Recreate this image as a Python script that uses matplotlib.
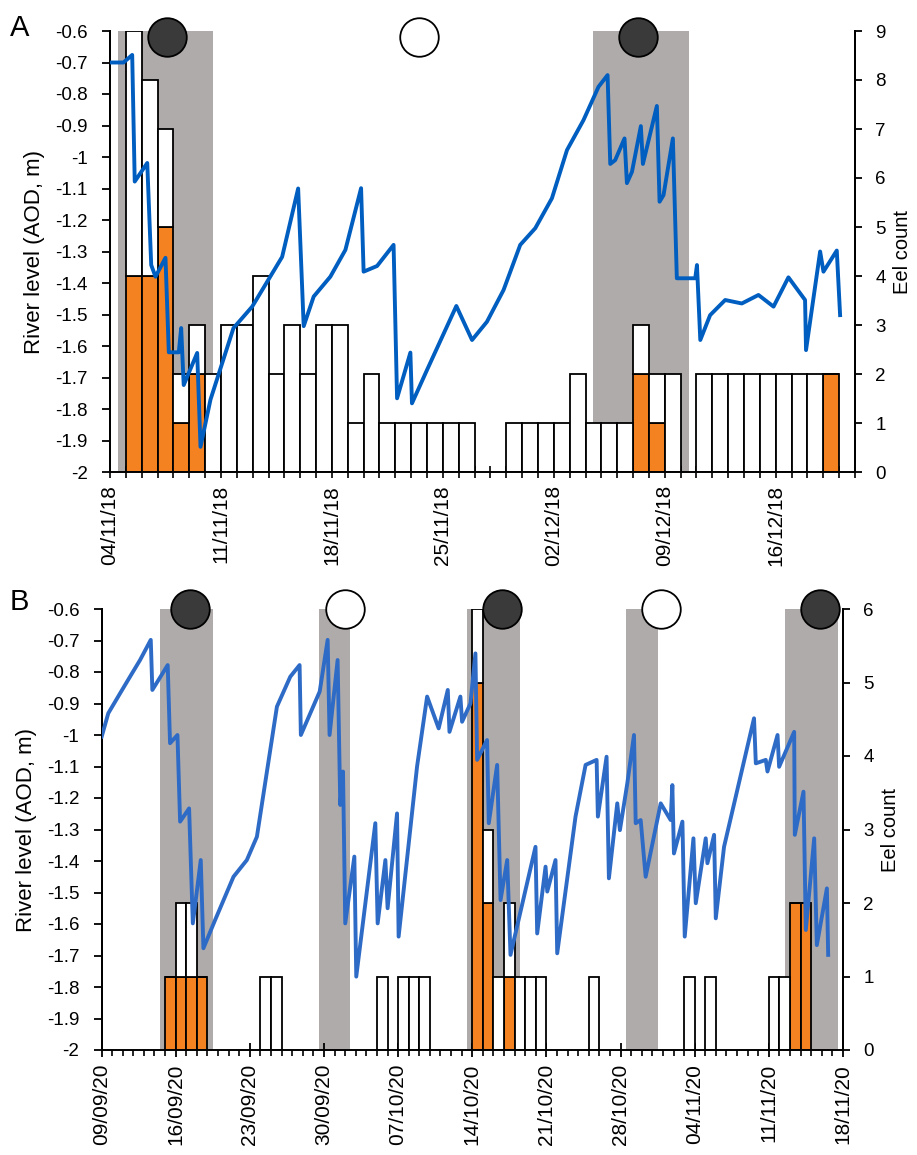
import matplotlib
matplotlib.use("Agg")
import matplotlib.pyplot as plt
import numpy as np

plt.rcParams['font.family'] = ['Liberation Sans', 'DejaVu Sans']

# ---------------- Panel A data (days since 04/11/18) ----------------
a_line_day = [0.0, 0.85, 1.40, 1.56, 2.35, 2.60, 2.87, 3.50, 3.71, 4.34, 4.49, 4.65, 5.50, 5.71,
              6.34, 7.79, 8.97, 10.86, 11.87, 12.22, 12.85, 13.90, 14.85, 15.84, 16.00, 16.85,
              17.89, 18.11, 18.95, 19.05, 20.0, 21.85, 22.84, 23.78, 24.83, 25.88, 26.83, 27.88,
              28.83, 29.87, 30.82, 31.39, 31.56, 31.87, 32.46, 32.61, 32.93, 33.49, 33.62, 34.50,
              34.67, 34.92, 35.51, 35.76, 36.92, 37.03, 37.24, 37.86, 38.81, 39.86, 40.91, 41.86,
              42.80, 43.85, 43.91, 44.80, 45.01, 45.85, 46.06]
a_line_level = [-0.70, -0.70, -0.676, -1.078, -1.019, -1.343, -1.38, -1.32, -1.62, -1.62, -1.543,
                -1.724, -1.622, -1.92, -1.77, -1.543, -1.475, -1.317, -1.10, -1.537, -1.443, -1.38,
                -1.295, -1.099, -1.364, -1.346, -1.279, -1.766, -1.621, -1.782, -1.676, -1.473,
                -1.581, -1.523, -1.422, -1.279, -1.226, -1.131, -0.978, -0.883, -0.777, -0.740,
                -1.022, -1.01, -0.941, -1.083, -1.047, -0.902, -1.022, -0.838, -1.142, -1.121,
                -0.941, -1.385, -1.385, -1.343, -1.581, -1.502, -1.454, -1.465, -1.438, -1.475,
                -1.382, -1.454, -1.613, -1.30, -1.364, -1.297, -1.502]
a_bar_day = [1, 2, 3, 4, 5, 6, 7, 8, 9, 10, 11, 12, 13, 14, 15, 16, 17, 18, 19, 20, 21, 22,
             25, 26, 27, 28, 29, 30, 31, 32, 33, 34, 35, 37, 38, 39, 40, 41, 42, 43, 44, 45]
a_bar_total = [9, 8, 7, 2, 3, 2, 3, 3, 4, 2, 3, 2, 3, 3, 1, 2, 1, 1, 1, 1, 1, 1,
               1, 1, 1, 1, 2, 1, 1, 1, 3, 2, 2, 2, 2, 2, 2, 2, 2, 2, 2, 2]
a_bar_orange = [4, 4, 5, 1, 2, 0, 0, 0, 0, 0, 0, 0, 0, 0, 0, 0, 0, 0, 0, 0, 0, 0,
                0, 0, 0, 0, 0, 0, 0, 0, 2, 1, 0, 0, 0, 0, 0, 0, 0, 0, 0, 2]
a_grey = [(0.5, 6.5), (30.5, 36.5)]
a_moon_day = [3.6, 19.5, 33.3]
a_moon_new = [True, False, True]
a_tick_labels = ['04/11/18', '11/11/18', '18/11/18', '25/11/18', '02/12/18', '09/12/18', '16/12/18']
a_xmax = 47
a_cmax = 9

# ---------------- Panel B data (days since 09/09/20) ----------------
b_line_day = [0.02, 0.64, 1.75, 2.69, 3.64, 4.65, 4.8, 6.25, 6.47, 7.17, 7.42, 8.27, 8.62, 9.37,
              9.62, 10.73, 12.46, 13.72, 14.67, 16.56, 17.82, 18.7, 18.82, 20.6, 21.35, 21.53,
              22.29, 22.54, 22.8, 23.01, 23.87, 24.05, 25.85, 26.07, 26.8, 27.01, 27.9, 28.05,
              29.79, 30.74, 31.83, 32.69, 32.85, 33.88, 34.04, 34.83, 35.3, 35.46, 36.4, 36.56,
              37.35, 37.67, 38.3, 38.61, 40.97, 41.13, 41.92, 42.08, 42.86, 43.02, 44.75, 45.7,
              46.74, 46.86, 47.68, 47.9, 48.69, 48.94, 49.64, 50.27, 50.43, 50.9, 51.37, 52.79,
              53.73, 53.89, 54.04, 54.84, 55.06, 55.88, 56.1, 57.04, 57.2, 57.83, 57.99, 58.77,
              61.6, 61.77, 62.71, 62.87, 63.82, 63.97, 65.39, 65.45, 66.27, 66.49, 67.28, 67.53,
              68.48, 68.6]
b_line_level = [-1.005, -0.931, -0.868, -0.815, -0.762, -0.698, -0.857, -0.778, -1.026, -1.0,
                -1.275, -1.233, -1.598, -1.397, -1.677, -1.587, -1.45, -1.397, -1.323, -0.91,
                -0.815, -0.778, -1.0, -0.862, -0.698, -1.0, -0.762, -1.222, -1.116, -1.598,
                -1.386, -1.767, -1.28, -1.598, -1.397, -1.55, -1.249, -1.64, -1.10, -0.878,
                -0.979, -0.857, -0.99, -0.878, -0.958, -0.9, -0.741, -1.079, -1.016, -1.28,
                -1.095, -1.524, -1.397, -1.698, -1.355, -1.63, -1.418, -1.497, -1.397, -1.693,
                -1.259, -1.095, -1.079, -1.259, -1.069, -1.455, -1.217, -1.302, -1.153, -1.0,
                -1.28, -1.27, -1.45, -1.217, -1.27, -1.159, -1.376, -1.275, -1.64, -1.328,
                -1.534, -1.328, -1.407, -1.317, -1.582, -1.355, -0.947, -1.09, -1.079, -1.116,
                -1.0, -1.101, -0.99, -1.317, -1.18, -1.619, -1.328, -1.667, -1.487, -1.698]
b_bar_day = [6, 7, 8, 9, 15, 16, 26, 28, 29, 30, 35, 36, 37, 38, 39, 40, 41, 46, 55, 57, 63, 64, 65, 66]
b_bar_total = [1, 2, 2, 1, 1, 1, 1, 1, 1, 1, 6, 3, 1, 2, 1, 1, 1, 1, 1, 1, 1, 1, 2, 2]
b_bar_orange = [1, 1, 1, 1, 0, 0, 0, 0, 0, 0, 5, 2, 0, 1, 0, 0, 0, 0, 0, 0, 0, 0, 2, 2]
b_grey = [(5.5, 10.5), (20.5, 23.5), (34.5, 39.5), (49.5, 52.5), (64.5, 69.5)]
b_moon_day = [8.4, 23.0, 37.8, 52.8, 67.8]
b_moon_new = [True, False, True, False, True]
b_tick_labels = ['09/09/20', '16/09/20', '23/09/20', '30/09/20', '07/10/20', '14/10/20',
                 '21/10/20', '28/10/20', '04/11/20', '11/11/20', '18/11/20']
b_xmax = 70
b_cmax = 6

level_ticks = [-0.6, -0.7, -0.8, -0.9, -1.0, -1.1, -1.2, -1.3, -1.4, -1.5, -1.6, -1.7, -1.8, -1.9, -2.0]

ORANGE = '#F58220'
GREY = '#B0ABAB'
FS = 13.5
FS_DATE = 15
FS_LAB = 16

fig = plt.figure(figsize=(9.17, 11.55), dpi=100)


def fmt_level(v):
    s = ('%.1f' % v)
    if s.endswith('.0'):
        s = s[:-2]
    return s


def panel(rect, line_day, line_level, bar_day, bar_total, bar_orange, grey, moon_day, moon_new,
          tick_labels, xmax, cmax, line_color, minor_days, moon_offset):
    axc = fig.add_axes(rect)          # count axis (behind)
    axl = axc.twinx()                  # level axis drawn on top
    axl.yaxis.set_label_position('left')
    axl.yaxis.tick_left()
    axc.yaxis.set_label_position('right')
    axc.yaxis.tick_right()

    for g0, g1 in grey:
        axc.axvspan(g0, g1, color=GREY, lw=0, zorder=0)
    tot = np.array(bar_total)
    org = np.array(bar_orange)
    axc.bar(bar_day, org, width=1, align='edge', color=ORANGE, edgecolor='black', lw=1.3, zorder=2)
    axc.bar(bar_day, tot - org, bottom=org, width=1, align='edge', color='white',
            edgecolor='black', lw=1.3, zorder=2)
    axc.set_ylim(0, cmax)
    axc.set_yticks(range(cmax + 1))
    axc.set_xlim(0, xmax)
    axc.set_ylabel('Eel count', fontsize=14.5, labelpad=5)

    axl.plot(line_day, line_level, color=line_color, lw=2.8, zorder=3, solid_joinstyle='round')
    axl.set_ylim(-2, -0.6)
    axl.set_yticks(level_ticks)
    axl.set_yticklabels([fmt_level(v) for v in level_ticks])
    axl.set_ylabel('River level (AOD, m)', fontsize=FS_LAB, labelpad=7)
    axl.set_xlim(0, xmax)

    for d, new in zip(moon_day, moon_new):
        axl.scatter([d], [-0.6 - moon_offset], s=770, facecolor='#3A3A3A' if new else 'white',
                    edgecolor='black', lw=1.3, zorder=6, clip_on=False)

    major = list(range(0, xmax + 1, 7))
    axc.set_xticks(major)
    axc.set_xticklabels(tick_labels, rotation=90, fontsize=FS_DATE)
    axc.set_xticks([d for d in range(xmax + 1) if d % 7 != 0], minor=True)
    if minor_days:
        axc.tick_params(axis='x', which='minor', direction='out', length=4, width=1.2)
        axc.tick_params(axis='x', which='major', direction='inout', length=10, width=1.3)
    else:
        axc.tick_params(axis='x', which='both', direction='inout', length=9, width=1.2)
    axc.tick_params(axis='x', which='major', pad=5)
    axl.tick_params(axis='y', direction='out', length=6, width=1.3, labelsize=FS, pad=10)
    axc.tick_params(axis='y', direction='out', length=5, width=1.3, labelsize=FS, pad=9.5)

    for ax in (axc, axl):
        ax.spines['top'].set_visible(False)
        for s in ('left', 'right', 'bottom'):
            ax.spines[s].set_linewidth(1.4)
    axl.spines['bottom'].set_visible(False)
    return axc, axl


panel([110 / 917, 1 - 472 / 1155, 745 / 917, 441 / 1155], a_line_day, a_line_level, a_bar_day,
      a_bar_total, a_bar_orange, a_grey, a_moon_day, a_moon_new, a_tick_labels, a_xmax, a_cmax,
      '#005EC0', False, 0.019)
panel([101.5 / 917, 1 - 1050 / 1155, 741.5 / 917, 441 / 1155], b_line_day, b_line_level, b_bar_day,
      b_bar_total, b_bar_orange, b_grey, b_moon_day, b_moon_new, b_tick_labels, b_xmax, b_cmax,
      '#2E6BC6', True, 0.0)

fig.text(10 / 917, 1 - 28 / 1155, 'A', fontsize=21, va='center', ha='left')
fig.text(10 / 917, 1 - 602 / 1155, 'B', fontsize=21, va='center', ha='left')

fig.savefig('out.png', dpi=100)
